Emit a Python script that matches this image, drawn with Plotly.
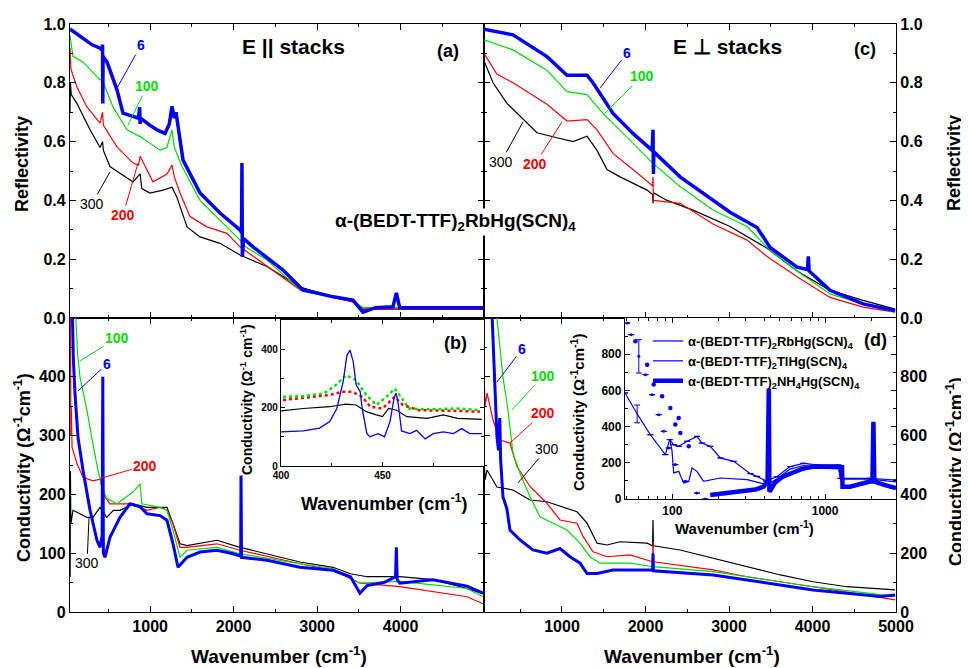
import plotly.graph_objects as go

# ================= DATA =================
# ---- (a) Reflectivity, E || stacks ----
a6_x = [40, 150, 300, 400, 425, 430, 433, 436, 483, 603, 675, 860, 875, 880, 885, 1000, 1082, 1178, 1230, 1262, 1290, 1310, 1334, 1394, 1598, 1837, 2077, 2095, 2100, 2105, 2120, 2233, 2592, 2832, 3000, 3191, 3430, 3550, 3700, 3909, 3950, 3990, 4389, 4990]
a6_y = [0.983, 0.96, 0.93, 0.918, 0.91, 0.93, 0.73, 0.89, 0.871, 0.776, 0.697, 0.68, 0.717, 0.66, 0.68, 0.655, 0.64, 0.628, 0.66, 0.72, 0.68, 0.70, 0.65, 0.537, 0.425, 0.357, 0.30, 0.29, 0.527, 0.208, 0.27, 0.242, 0.163, 0.095, 0.085, 0.072, 0.061, 0.02, 0.035, 0.038, 0.085, 0.035, 0.035, 0.035]
a100_x = [40, 76, 196, 300, 400, 435, 440, 555, 723, 880, 1118, 1200, 1262, 1290, 1382, 1598, 1837, 2077, 2100, 2400, 2800, 3200, 3430, 3550, 4000, 4990]
a100_y = [0.96, 0.89, 0.871, 0.84, 0.81, 0.82, 0.80, 0.718, 0.64, 0.617, 0.571, 0.58, 0.64, 0.58, 0.515, 0.40, 0.333, 0.265, 0.25, 0.197, 0.095, 0.07, 0.06, 0.035, 0.035, 0.035]
a200_x = [40, 50, 70, 123, 243, 400, 430, 440, 603, 795, 860, 880, 1034, 1202, 1262, 1290, 1358, 1478, 1680, 1920, 2077, 2400, 2800, 3200, 3430, 3550, 4990]
a200_y = [0.92, 0.85, 0.83, 0.786, 0.718, 0.663, 0.70, 0.655, 0.582, 0.527, 0.52, 0.55, 0.463, 0.49, 0.52, 0.48, 0.425, 0.345, 0.31, 0.288, 0.242, 0.175, 0.095, 0.07, 0.055, 0.03, 0.03]
a300_x = [40, 45, 55, 123, 280, 400, 430, 440, 519, 639, 795, 880, 900, 998, 1154, 1262, 1322, 1442, 1598, 1837, 2077, 2400, 2800, 3200, 3430, 3550, 4990]
a300_y = [0.70, 0.80, 0.76, 0.73, 0.64, 0.58, 0.60, 0.57, 0.515, 0.493, 0.463, 0.49, 0.44, 0.425, 0.435, 0.445, 0.41, 0.31, 0.276, 0.254, 0.214, 0.175, 0.105, 0.07, 0.055, 0.03, 0.03]

# ---- (c) Reflectivity, E perp stacks ----
c6_x = [66, 413, 820, 1060, 1300, 1371, 1611, 1850, 2080, 2090, 2095, 2100, 2414, 2809, 3012, 3336, 3492, 3815, 3940, 3950, 3960, 4210, 4606, 4990]
c6_y = [0.982, 0.963, 0.889, 0.826, 0.826, 0.80, 0.696, 0.628, 0.57, 0.64, 0.49, 0.565, 0.48, 0.40, 0.36, 0.308, 0.24, 0.173, 0.165, 0.21, 0.16, 0.094, 0.048, 0.025]
c100_x = [66, 413, 820, 1060, 1300, 1491, 1815, 2090, 2414, 2809, 3216, 3492, 3815, 4210, 4606, 4990]
c100_y = [0.946, 0.912, 0.843, 0.77, 0.76, 0.696, 0.605, 0.526, 0.447, 0.367, 0.311, 0.23, 0.16, 0.082, 0.048, 0.02]
c200_x = [66, 220, 413, 820, 1060, 1300, 1419, 1611, 1850, 2085, 2090, 2095, 2414, 2809, 3216, 3456, 3815, 4210, 4606, 4990]
c200_y = [0.90, 0.83, 0.80, 0.727, 0.67, 0.675, 0.64, 0.56, 0.505, 0.45, 0.48, 0.40, 0.39, 0.32, 0.265, 0.209, 0.14, 0.07, 0.037, 0.02]
c300_x = [66, 174, 341, 533, 701, 940, 1132, 1300, 1419, 1539, 1695, 2018, 2085, 2090, 2100, 2258, 2570, 3012, 3456, 3815, 4210, 4606, 4990]
c300_y = [0.875, 0.80, 0.73, 0.675, 0.63, 0.613, 0.60, 0.618, 0.57, 0.505, 0.48, 0.435, 0.42, 0.39, 0.425, 0.40, 0.367, 0.311, 0.237, 0.16, 0.094, 0.06, 0.03]

# ---- (b) Conductivity, E || stacks ----
b6_x = [55, 80, 100, 136, 196, 280, 363, 400, 425, 433, 440, 459, 519, 639, 759, 879, 962, 1118, 1202, 1274, 1334, 1442, 1598, 1801, 1993, 2085, 2089, 2095, 2400, 2795, 3191, 3400, 3514, 3600, 3800, 3940, 3950, 3960, 3993, 4389, 4796, 4988]
b6_y = [600, 430, 371, 297, 241, 173, 122, 110, 130, 400, 100, 93, 127, 161, 184, 179, 167, 164, 156, 116, 76, 93, 102, 105, 99, 95, 232, 93, 88, 76, 71, 60, 32, 45, 50, 60, 110, 55, 49, 55, 44, 32]
b100_x = [90, 110, 130, 160, 244, 315, 375, 435, 483, 603, 795, 880, 900, 1118, 1202, 1274, 1358, 1442, 1801, 2077, 2795, 3191, 3514, 3993, 4796, 4988]
b100_y = [560, 490, 440, 399, 342, 286, 241, 207, 193, 184, 204, 218, 184, 178, 173, 139, 93, 105, 110, 99, 82, 74, 49, 52, 40, 26]
b200_x = [45, 50, 55, 65, 76, 124, 196, 315, 400, 440, 519, 795, 962, 1118, 1202, 1274, 1358, 1442, 1801, 2077, 2795, 3191, 3514, 3993, 4796, 4988]
b200_y = [520, 300, 350, 280, 274, 252, 229, 223, 226, 200, 184, 184, 173, 178, 173, 150, 110, 110, 116, 105, 82, 71, 49, 43, 26, 14]
b300_x = [42, 45, 50, 76, 160, 244, 315, 400, 480, 560, 639, 795, 962, 1118, 1202, 1274, 1358, 1442, 1801, 2077, 2400, 2795, 3191, 3400, 3600, 3993, 4389, 4796, 4988]
b300_y = [60, 240, 150, 173, 167, 161, 161, 178, 161, 173, 173, 184, 178, 178, 178, 150, 116, 113, 122, 110, 99, 85, 76, 65, 60, 60, 55, 40, 31]

# ---- (d) Conductivity, E perp stacks ----
d6_x = [150, 190, 221, 240, 255, 265, 293, 341, 377, 497, 652, 820, 976, 1096, 1216, 1300, 1420, 1611, 2085, 2090, 2095, 2809, 3216, 3615, 4007, 4410, 4810, 4990]
d6_y = [1100, 800, 596, 550, 660, 520, 392, 350, 279, 245, 211, 200, 216, 188, 166, 131, 131, 143, 143, 200, 140, 126, 109, 92, 75, 64, 53, 58]
d100_x = [200, 221, 293, 353, 413, 497, 617, 737, 892, 1060, 1216, 1335, 1455, 1815, 2090, 2809, 3216, 4007, 4990]
d100_y = [1100, 1000, 800, 687, 540, 472, 392, 324, 302, 279, 234, 188, 166, 166, 154, 137, 120, 86, 53]
d200_x = [66, 80, 102, 174, 257, 377, 461, 617, 820, 976, 1180, 1252, 1372, 1539, 1815, 2085, 2090, 2095, 2809, 3216, 4007, 4990]
d200_y = [800, 700, 745, 653, 585, 574, 495, 427, 370, 313, 302, 257, 205, 188, 194, 171, 240, 171, 143, 120, 86, 41]
d300_x = [66, 80, 102, 221, 413, 617, 820, 1012, 1180, 1300, 1420, 1539, 1695, 2018, 2085, 2090, 2095, 2414, 2809, 3216, 3615, 4007, 4410, 4990]
d300_y = [517, 450, 483, 425, 415, 381, 375, 358, 341, 302, 234, 228, 239, 234, 225, 313, 225, 211, 183, 154, 126, 103, 86, 75]

# ---- inset of (b): 400-500 cm-1 ----
ib6_x = [400, 411, 419, 424, 427.5, 430.6, 432.5, 434, 435.6, 437, 439, 440, 442.3, 443.8, 447.8, 451, 453.7, 455.7, 456.7, 457.8, 459.4, 463.5, 466.8, 471, 475, 480, 485, 489, 493, 499]
ib6_y = [117, 120, 130, 152, 197, 288, 380, 397, 357, 278, 255, 197, 111, 100, 111, 100, 152, 233, 250, 210, 120, 111, 122, 93, 111, 117, 111, 128, 111, 111]
ib100_x = [401, 411, 421, 427, 432, 437, 442, 447, 452, 456, 459, 463, 472, 487, 498]
ib100_y = [237, 239, 248, 277, 311, 294, 243, 209, 237, 265, 237, 197, 194, 197, 191]
ib200_x = [401, 415, 424, 430, 435, 440, 444, 450, 456, 460, 468, 485, 498]
ib200_y = [226, 235, 243, 254, 254, 237, 203, 197, 237, 209, 191, 189, 186]
ib300_x = [400, 411, 424, 432, 437, 442, 447, 450, 453, 457, 462, 472, 480, 487, 499]
ib300_y = [189, 197, 203, 212, 209, 186, 175, 169, 197, 191, 169, 163, 175, 163, 160]

# ---- inset (d): three compounds, log wavenumber ----
id_rb_x = [49, 58.8, 71.8, 90, 96, 102, 110, 125, 145, 156, 177, 206, 252, 324, 357, 410, 483, 590, 721, 883, 1222, 1260, 1967, 2913]
id_rb_y = [586, 470, 355, 245, 328, 300, 291, 319, 346, 309, 291, 227, 208, 140, 125, 100, 123, 179, 197, 188, 188, 114, 114, 105]
id_rb_err = [0, 49, 0, 0, 0, 0, 0, 0, 0, 0, 0, 0, 0, 0, 0, 0, 0, 0, 0, 0, 0, 0, 0, 0]
id_tl_x = [96, 99.5, 102, 110, 118.6, 128, 134.6, 145, 160, 206, 308, 416, 483, 590, 721, 883, 1222, 1260, 1967, 2913]
id_tl_y = [328, 267, 144, 153, 88, 97, 171, 153, 97, 116, 107, 80, 110, 165, 185, 178, 178, 110, 110, 95]
id_nh4_x = [177, 200, 250, 300, 350, 395, 420, 428, 432, 440, 470, 520, 590, 700, 836, 1000, 1222, 1290, 1300, 1455, 1967, 2040, 2070, 2100, 2500, 2913]
id_nh4_y = [22, 28, 35, 45, 52, 68, 100, 610, 40, 50, 90, 120, 142, 165, 179, 177, 175, 175, 68, 68, 96, 96, 427, 96, 75, 61]
id_hr1_x = [50.6, 53.7, 60.3, 66.7, 73.7, 81.4, 87.8, 94.6, 104.6, 121.7, 145, 164]
id_hr1_y = [972, 908, 788, 687, 576, 466, 374, 282, 190, 98, 33, 0]
id_hr1_err = [0, 0, 92, 0, 0, 0, 0, 0, 0, 0, 0, 0]
id_hr2_x = [57.3, 68.4, 75.5, 85.7, 97, 104.6, 110, 112.8, 128]
id_hr2_y = [871, 742, 632, 567, 503, 411, 448, 365, 291]

legend_names = ["α-(BEDT-TTF)<sub>2</sub>RbHg(SCN)<sub>4</sub>",
                "α-(BEDT-TTF)<sub>2</sub>TlHg(SCN)<sub>4</sub>",
                "α-(BEDT-TTF)<sub>2</sub>NH<sub>4</sub>Hg(SCN)<sub>4</sub>"]

# ================= STYLE / LAYOUT =================
OFF = 8                      # page body margin of the generated HTML
W, H = 969 - OFF, 668 - OFF  # figure size so that it ends at the window edge
FONT = "Liberation Sans, Arial, sans-serif"
BLACK, RED, GREEN, BLUE = "#000000", "#ff0000", "#00dd00", "#0000ff"


def fx(p):
    return (p - OFF) / W


def fy(p):
    return 1 - (p - OFF) / H


fig = go.Figure()


def line(x, y, xa, ya, color, width, dash="solid", name=None, legend=False):
    fig.add_trace(go.Scatter(x=x, y=y, xaxis=xa, yaxis=ya, mode="lines",
                             line=dict(color=color, width=width, dash=dash),
                             name=name, showlegend=legend, hoverinfo="skip"))


# main panels
for xa, ya, sets, bw in [
    ("x", "y", [(a300_x, a300_y, BLACK), (a200_x, a200_y, RED), (a100_x, a100_y, GREEN), (a6_x, a6_y, BLUE)], 3.5),
    ("x2", "y2", [(c300_x, c300_y, BLACK), (c200_x, c200_y, RED), (c100_x, c100_y, GREEN), (c6_x, c6_y, BLUE)], 3.5),
    ("x3", "y3", [(b300_x, b300_y, BLACK), (b200_x, b200_y, RED), (b100_x, b100_y, GREEN), (b6_x, b6_y, BLUE)], 3),
    ("x4", "y4", [(d300_x, d300_y, BLACK), (d200_x, d200_y, RED), (d100_x, d100_y, GREEN), (d6_x, d6_y, BLUE)], 3),
]:
    for x, y, c in sets:
        line(x, y, xa, ya, c, bw if c == BLUE else 1.2)

# inset b
line(ib300_x, ib300_y, "x5", "y5", BLACK, 1.2)
line(ib200_x, ib200_y, "x5", "y5", RED, 2.5, dash="dot")
line(ib100_x, ib100_y, "x5", "y5", GREEN, 2.5, dash="dot")
line(ib6_x, ib6_y, "x5", "y5", BLUE, 1.3)

# inset d
fig.add_trace(go.Scatter(x=id_rb_x, y=id_rb_y, xaxis="x6", yaxis="y6", mode="lines",
                         line=dict(color=BLUE, width=1.2), name=legend_names[0], showlegend=True,
                         error_y=dict(type="data", array=id_rb_err, color=BLUE, thickness=1, width=3)))
fig.add_trace(go.Scatter(x=id_tl_x, y=id_tl_y, xaxis="x6", yaxis="y6", mode="lines",
                         line=dict(color=BLUE, width=1.2), name=legend_names[1], showlegend=True))
fig.add_trace(go.Scatter(x=id_nh4_x, y=id_nh4_y, xaxis="x6", yaxis="y6", mode="lines",
                         line=dict(color=BLUE, width=4.5), name=legend_names[2], showlegend=True))
fig.add_trace(go.Scatter(x=id_hr1_x, y=id_hr1_y, xaxis="x6", yaxis="y6", mode="markers",
                         marker=dict(color=BLUE, size=3), showlegend=False,
                         error_y=dict(type="data", array=id_hr1_err, color=BLUE, thickness=1, width=3)))
fig.add_trace(go.Scatter(x=id_hr2_x, y=id_hr2_y, xaxis="x6", yaxis="y6", mode="markers",
                         marker=dict(color=BLUE, size=4.5), showlegend=False))

tick_font = dict(family=FONT, size=16, color="black", weight="bold")
base = dict(showline=True, linecolor="black", linewidth=1.3, mirror="allticks", ticks="inside",
            ticklen=6, tickwidth=1.2, tickcolor="black", showgrid=False, zeroline=False,
            tickfont=tick_font, fixedrange=True, automargin=False)


def minor(**kw):
    d = dict(ticks="inside", ticklen=3, tickwidth=1, tickcolor="black", showgrid=False)
    d.update(kw)
    return d


XL = [fx(70), fx(484)]
XR = [fx(484), fx(896)]
YT = [fy(318), fy(24)]
YB = [fy(612), fy(318)]
wn_ticks = [1000, 2000, 3000, 4000]

fig.update_layout(
    width=W, height=H, margin=dict(l=0, r=0, t=0, b=0, pad=0, autoexpand=False),
    paper_bgcolor="white", plot_bgcolor="white",
    font=dict(family=FONT, color="black"),
    xaxis=dict(base, domain=XL, range=[40, 5000], anchor="y", tickvals=wn_ticks, showticklabels=False,
               minor=minor(dtick=500, tick0=0)),
    yaxis=dict(base, domain=YT, range=[0, 1], anchor="x", dtick=0.2, tick0=0, tickformat=".1f",
               minor=minor(dtick=0.1, tick0=0)),
    xaxis2=dict(base, domain=XR, range=[66, 5000], anchor="y2", tickvals=wn_ticks + [5000], showticklabels=False,
                minor=minor(dtick=500, tick0=0)),
    yaxis2=dict(base, domain=YT, range=[0, 1], anchor="x2", side="right", dtick=0.2, tick0=0, tickformat=".1f",
                minor=minor(dtick=0.1, tick0=0)),
    xaxis3=dict(base, domain=XL, range=[40, 5000], anchor="y3", tickvals=wn_ticks,
                minor=minor(dtick=500, tick0=0)),
    yaxis3=dict(base, domain=YB, range=[0, 500], anchor="x3", tickvals=[0, 100, 200, 300, 400],
                minor=minor(dtick=50, tick0=0)),
    xaxis4=dict(base, domain=XR, range=[66, 5000], anchor="y4", tickvals=wn_ticks + [5000],
                minor=minor(dtick=500, tick0=0)),
    yaxis4=dict(base, domain=YB, range=[0, 1000], anchor="x4", side="right", tickvals=[0, 200, 400, 600, 800],
                minor=minor(dtick=100, tick0=0)),
    xaxis5=dict(base, domain=[fx(281), fx(484)], range=[400, 500], anchor="y5", tickvals=[400, 450],
                ticklen=4, tickfont=dict(tick_font, size=10), minor=minor(dtick=25, tick0=400)),
    yaxis5=dict(base, domain=[fy(466), fy(320)], range=[0, 500], anchor="x5", tickvals=[0, 200, 400],
                ticklen=4, tickfont=dict(tick_font, size=10), minor=minor(dtick=100, tick0=0)),
    xaxis6=dict(base, domain=[fx(625), fx(896)], type="log", range=[1.690, 3.464], anchor="y6",
                tickvals=[100, 1000], ticktext=["100", "1000"], ticklen=5,
                tickfont=dict(tick_font, size=12),
                minor=minor(tickvals=[50, 60, 70, 80, 90, 200, 300, 400, 500, 600, 700, 800, 900, 2000])),
    yaxis6=dict(base, domain=[fy(499), fy(318)], range=[0, 1000], anchor="x6", tickvals=[0, 200, 400, 600, 800],
                ticklen=5, tickfont=dict(tick_font, size=12), minor=minor(dtick=100, tick0=0)),
    legend=dict(x=fx(648), y=fy(326), xanchor="left", yanchor="top", bgcolor="rgba(0,0,0,0)",
                font=dict(family=FONT, size=13, color="black", weight="bold"), itemwidth=30,
                tracegroupgap=0),
)

ann = []


def text(s, x, y, size, angle=0, color="black", weight="bold", bg=None):
    d = dict(text=s, x=fx(x), y=fy(y), xref="paper", yref="paper", showarrow=False,
             textangle=angle, font=dict(family=FONT, size=size, color=color, weight=weight),
             xanchor="center", yanchor="middle")
    if bg:
        d["bgcolor"] = bg
    ann.append(d)


# axis titles
text("Reflectivity", 22, 164, 18, angle=-90)
text("Conductivity (Ω<sup>-1</sup>cm<sup>-1</sup>)", 22, 468, 18, angle=-90)
text("Reflectivity", 954, 163, 18, angle=-90)
text("Conductivity (Ω<sup>-1</sup>cm<sup>-1</sup>)", 954, 472, 18, angle=-90)
text("Wavenumber (cm<sup>-1</sup>)", 279, 655, 19)
text("Wavenumber (cm<sup>-1</sup>)", 692, 655, 19)
# inset titles
text("Wavenumber (cm<sup>-1</sup>)", 384, 502, 18)
text("Conductivity (Ω<sup>-1</sup> cm<sup>-1</sup>)", 246, 400, 14, angle=-90)
text("Wavenumber (cm<sup>-1</sup>)", 744, 527, 15)
text("Conductivity (Ω<sup>-1</sup>cm<sup>-1</sup>)", 577, 413, 15, angle=-90)
# panel labels
text("E || stacks", 293, 47, 21)
text("E ⊥ stacks", 727, 47, 21)
text("(a)", 448, 51, 18)
text("(c)", 865, 49, 18)
text("(b)", 455, 343, 18)
text("(d)", 875, 340, 18)
text("α-(BEDT-TTF)<sub>2</sub>RbHg(SCN)<sub>4</sub>", 455, 222, 19, bg="white")


def lab(s, xa, ya, x, y, ax, ay, color, weight="bold"):
    ann.append(dict(text=s, x=x, y=y, xref=xa, yref=ya, ax=ax, ay=ay, showarrow=True,
                    arrowhead=0, arrowwidth=1, arrowcolor=color, standoff=0,
                    font=dict(family=FONT, size=14, color=color, weight=weight)))


# temperature labels with leader lines (data-space anchor points)
lab("6", "x", "y", 603, 0.782, 24, -43, BLUE)
lab("100", "x", "y", 735, 0.656, 19, -39, GREEN)
lab("200", "x", "y", 855, 0.527, -15, 52, RED)
lab("300", "x", "y", 519, 0.497, -18, 32, BLACK, "normal")
lab("6", "x2", "y2", 1455, 0.782, 27, -35, BLUE)
lab("100", "x2", "y2", 1491, 0.69, 39, -39, GREEN)
lab("200", "x2", "y2", 1000, 0.667, -27, 42, RED)
lab("300", "x2", "y2", 533, 0.667, -22, 40, BLACK, "normal")
lab("100", "x3", "y3", 160, 427, 37, -23, GREEN)
lab("6", "x3", "y3", 136, 376, 29, -27, BLUE)
lab("200", "x3", "y3", 400, 227, 45, -13, RED)
lab("300", "x3", "y3", 268, 161, -2, 46, BLACK, "normal")
lab("6", "x4", "y4", 221, 782, 25, -33, BLUE)
lab("100", "x4", "y4", 401, 687, 31, -34, GREEN)
lab("200", "x4", "y4", 377, 575, 33, -30, RED)
lab("300", "x4", "y4", 473, 439, 29, -34, BLACK, "normal")

fig.update_layout(annotations=ann)
fig.write_html("out.html")
